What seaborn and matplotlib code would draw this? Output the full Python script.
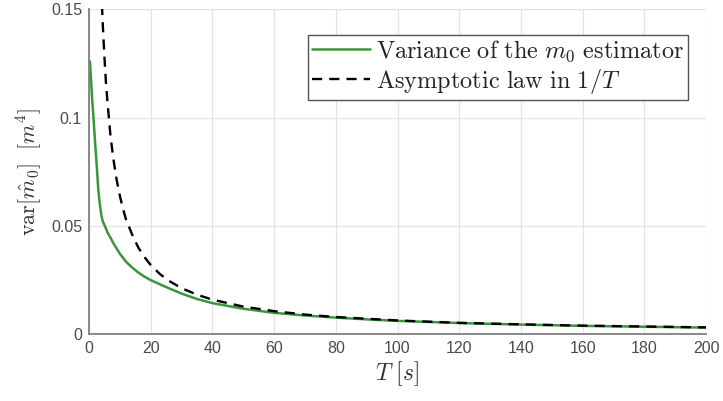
import matplotlib
matplotlib.use("Agg")
import matplotlib.pyplot as plt
import seaborn as sns
import pandas as pd

# Variance of the m0 estimator (green solid line)
T_var = [0.3, 1, 1.5, 2, 2.5, 3, 3.5, 4, 4.5, 5, 6, 7, 8, 9, 10, 12, 14, 16, 18, 20,
         25, 30, 35, 40, 50, 60, 70, 80, 90, 100, 120, 140, 160, 180, 200]
var_m0 = [0.126, 0.109, 0.099, 0.088, 0.078, 0.067, 0.060, 0.055, 0.052, 0.0505, 0.047,
          0.0445, 0.0418, 0.0395, 0.0372, 0.0335, 0.0308, 0.0285, 0.0266, 0.025,
          0.0218, 0.0188, 0.0163, 0.0144, 0.0118, 0.0099, 0.0087, 0.0077, 0.0069,
          0.0062, 0.0052, 0.0045, 0.0039, 0.0035, 0.0031]

# Asymptotic law in 1/T (black dashed line)
T_asym = [4.2, 4.5, 5, 5.5, 6, 7, 8, 9, 10, 11, 12, 14, 16, 18, 20, 23, 26, 30, 35, 40,
          50, 60, 70, 80, 100, 120, 140, 160, 180, 200]
asym = [0.152, 0.142, 0.128, 0.116, 0.107, 0.091, 0.080, 0.071, 0.064, 0.058, 0.053,
        0.046, 0.040, 0.0356, 0.032, 0.0278, 0.0246, 0.0213, 0.0183, 0.016, 0.0128,
        0.0107, 0.0091, 0.008, 0.0064, 0.0053, 0.0046, 0.004, 0.0036, 0.0032]

x_ticks = [0, 20, 40, 60, 80, 100, 120, 140, 160, 180, 200]
y_ticks = [0, 0.05, 0.1, 0.15]
y_tick_labels = ["0", "0.05", "0.1", "0.15"]

label_var = r"$\mathrm{Variance\ of\ the\ }m_0\mathrm{\ estimator}$"
label_asym = r"$\mathrm{Asymptotic\ law\ in\ }1/T$"

sns.set_style("whitegrid")
plt.rcParams["font.family"] = ["Liberation Sans", "DejaVu Sans"]
plt.rcParams["mathtext.fontset"] = "cm"

fig = plt.figure(figsize=(7.23, 4.01), dpi=100)
ax = fig.add_axes([0.1231, 0.1663, 0.8534, 0.8105])

df_var = pd.DataFrame({"T": T_var, "v": var_m0})
df_asym = pd.DataFrame({"T": T_asym, "v": asym})

sns.lineplot(data=df_var, x="T", y="v", ax=ax, color="#3a963a", lw=1.8,
             label=label_var, sort=False, estimator=None)
sns.lineplot(data=df_asym, x="T", y="v", ax=ax, color="black", lw=1.7,
             dashes=False, label=label_asym, sort=False, estimator=None)
ax.lines[1].set_dashes([4.3, 3.0])

ax.set_xlim(0, 200)
ax.set_ylim(0, 0.15)
ax.set_xticks(x_ticks)
ax.set_yticks(y_ticks)
ax.set_yticklabels(y_tick_labels)

ax.grid(True, color="#e3e3e3", lw=0.9)
for s in ["top", "right"]:
    ax.spines[s].set_visible(False)
for s in ["left", "bottom"]:
    ax.spines[s].set_visible(True)
    ax.spines[s].set_color("#808080")
    ax.spines[s].set_linewidth(1.3)
ax.tick_params(axis="both", direction="in", length=4, width=1, color="#606060",
               labelsize=11.5, labelcolor="#4a4a4a", pad=5)

ax.set_xlabel(r"$T\ [s]$", fontsize=17, color="#333333", labelpad=2)
ax.set_ylabel(r"$\mathrm{var}[\hat{m}_0]\ \ [m^4]$", fontsize=16, color="#333333", labelpad=5)

leg = ax.legend(loc="upper right", bbox_to_anchor=(0.971, 0.921), frameon=True,
                fancybox=False, framealpha=1, edgecolor="#555555", fontsize=17.5,
                handlelength=2.4, handletextpad=0.25, borderpad=0.15, labelspacing=0.12,
                borderaxespad=0)
leg.get_frame().set_linewidth(1.0)
for t in leg.get_texts():
    t.set_color("#222222")

fig.savefig("out.png", dpi=100, facecolor="white")
